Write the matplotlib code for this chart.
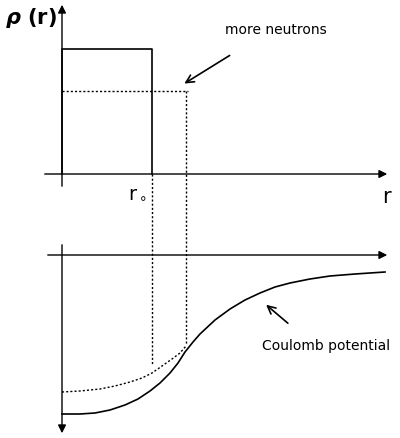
import matplotlib.pyplot as plt

# Schematic values (pixel coordinates of a 400x439 canvas)
box_x = [62, 62, 152, 152]
box_y = [175, 50, 50, 175]
dotted_box_x = [62, 188]
dotted_box_y = [92, 92]
drop_r0_x = [152, 152]
drop_r0_y = [175, 365]
drop_rn_x = [186, 186]
drop_rn_y = [92, 345]

pot_x = [62, 80, 95, 110, 125, 138, 150, 160, 170, 178, 185, 193, 200, 215,
         230, 245, 260, 275, 290, 310, 330, 355, 385]
pot_y = [415, 415, 414, 411, 406, 400, 392, 384, 374, 364, 353, 343, 335, 321,
         310, 301, 294, 288, 284, 280, 277, 275, 273]
pot_dot_x = [62, 80, 100, 115, 130, 142, 152, 162, 172, 180, 186]
pot_dot_y = [393, 392, 390, 387, 383, 379, 374, 367, 360, 354, 347]

fig = plt.figure(figsize=(4.0, 4.39), dpi=100)
ax = fig.add_axes([0, 0, 1, 1])
ax.set_xlim(0, 400)
ax.set_ylim(439, 0)
ax.axis("off")

arrow = dict(arrowstyle="-|>", color="black", lw=1, mutation_scale=12)
# Upper axes
ax.annotate("", xy=(62, 3), xytext=(62, 190), arrowprops=arrow)
ax.annotate("", xy=(390, 175), xytext=(42, 175), arrowprops=arrow)
# Lower axes
ax.annotate("", xy=(390, 256), xytext=(45, 256), arrowprops=arrow)
ax.annotate("", xy=(62, 437), xytext=(62, 243), arrowprops=arrow)

ax.plot(box_x, box_y, color="black", lw=1.2)
ax.plot(dotted_box_x, dotted_box_y, color="black", lw=1, ls=(0, (1.5, 1.5)))
ax.plot(drop_r0_x, drop_r0_y, color="black", lw=1, ls=(0, (1.5, 1.5)))
ax.plot(drop_rn_x, drop_rn_y, color="black", lw=1, ls=(0, (1.5, 1.5)))

ax.plot(pot_x, pot_y, color="black", lw=1.2)
ax.plot(pot_dot_x, pot_dot_y, color="black", lw=1, ls=(0, (1.5, 1.5)))

ax.text(5, 18, r"$\boldsymbol{\rho}$ (r)", fontsize=15, fontweight="bold", va="center")
ax.text(128, 193, r"r$_\circ$", fontsize=14, va="center")
ax.text(382, 197, "r", fontsize=15, va="center")
ax.text(225, 30, "more neutrons", fontsize=10, va="center")
ax.text(262, 346, "Coulomb potential", fontsize=10, va="center")

thin = dict(arrowstyle="->", color="black", lw=1.2, mutation_scale=14)
ax.annotate("", xy=(182, 86), xytext=(232, 55), arrowprops=thin)
ax.annotate("", xy=(264, 304), xytext=(290, 326), arrowprops=thin)

fig.savefig("out.png", dpi=100)
